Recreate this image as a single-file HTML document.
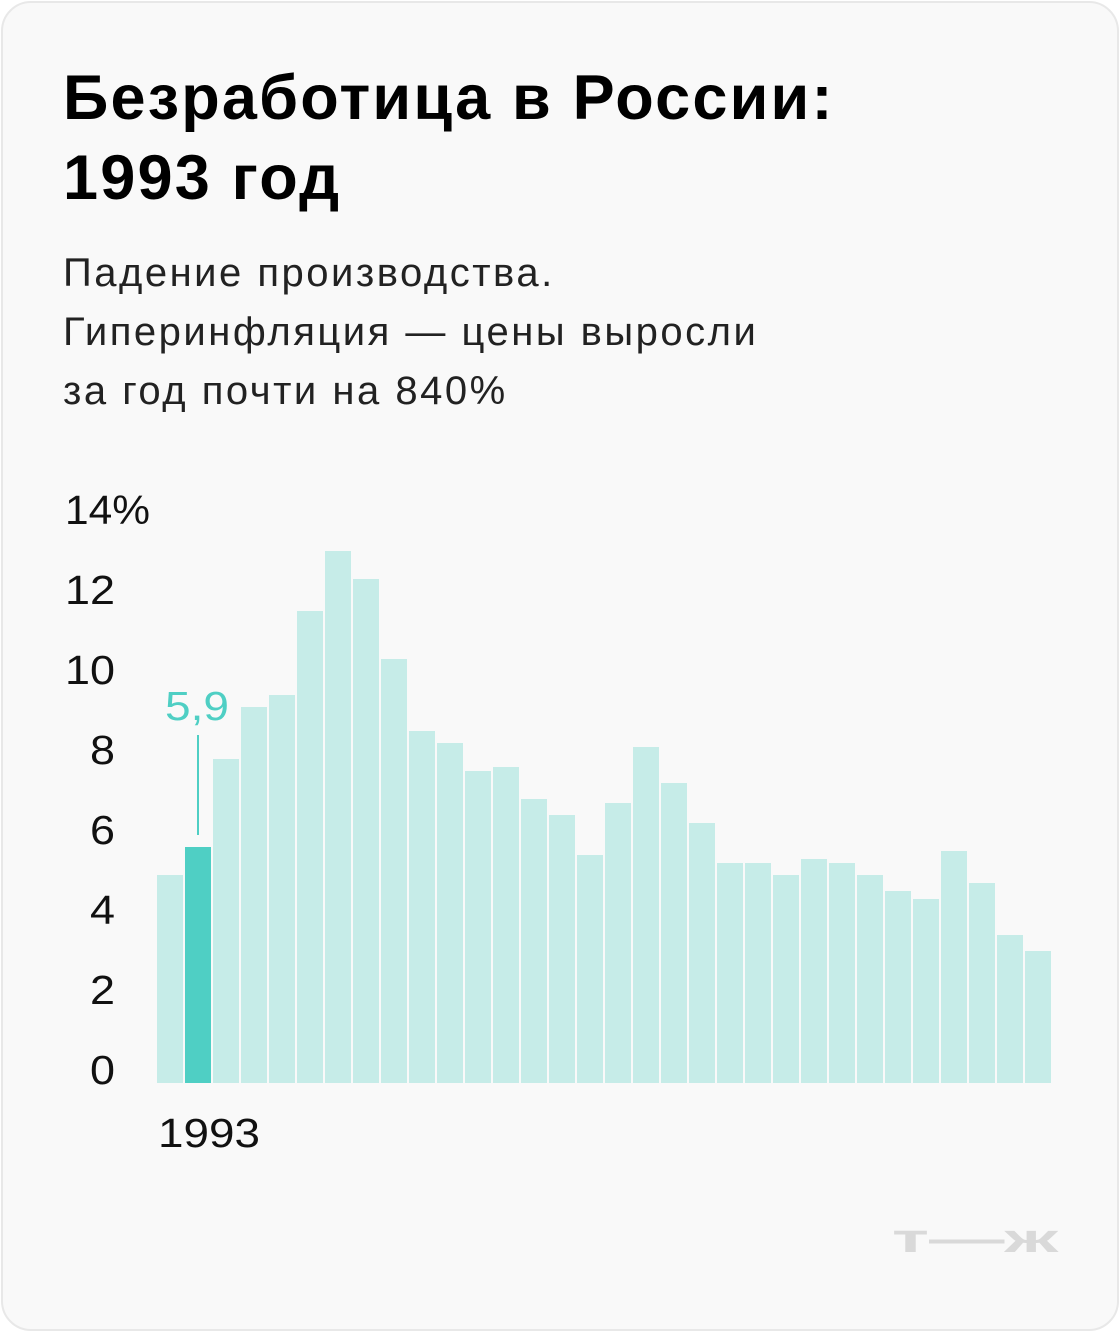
<!DOCTYPE html>
<html><head><meta charset="utf-8"><style>
body{margin:0;background:#fff;}
#card{position:absolute;left:1px;top:1px;width:1114px;height:1326px;background:#f9f9f9;border:2px solid #e8e8e8;border-radius:30px;font-family:"Liberation Sans",sans-serif;}
h1{position:absolute;left:60px;top:55px;margin:0;font-size:63px;line-height:80px;font-weight:700;color:#000;letter-spacing:2.2px;}
.sub{position:absolute;left:60px;top:241px;font-size:40px;line-height:59px;color:#222;letter-spacing:2.5px;}
svg{position:absolute;left:0;top:0;}
</style></head><body>
<div id="card">
<h1>Безработица в России:<br>1993 год</h1>
<div class="sub">Падение производства.<br>Гиперинфляция — цены выросли<br>за год почти на 840%</div>
</div>
<svg id="chart" width="1120" height="1332"></svg>
<script>
const years=[1992,1993,1994,1995,1996,1997,1998,1999,2000,2001,2002,2003,2004,2005,2006,2007,2008,2009,2010,2011,2012,2013,2014,2015,2016,2017,2018,2019,2020,2021,2022,2023];
const values=[5.2,5.9,8.1,9.4,9.7,11.8,13.3,12.6,10.6,8.8,8.5,7.8,7.9,7.1,6.7,5.7,7.0,8.4,7.5,6.5,5.5,5.5,5.2,5.6,5.5,5.2,4.8,4.6,5.8,5.0,3.7,3.3];
const yTicks=[0,2,4,6,8,10,12,14];
const highlightYear=1993;
const highlightLabel="5,9";
const svg=document.getElementById('chart');
const NS='http://www.w3.org/2000/svg';
const x0=157,pitch=28,base=1083,unit=40;
const x=i=>x0+i*pitch;
const y=v=>base-v*unit;
function mk(t,a){const e=document.createElementNS(NS,t);for(const k in a)e.setAttribute(k,a[k]);svg.appendChild(e);return e;}
yTicks.forEach(t=>{
  const s=t===14?'14%':String(t);
  const w=t===14?85:(s.length===2?50:25);
  const e=mk('text',{x:t===14?65:115-w,y:y(t)+1,'font-size':41,'font-family':'Liberation Sans, sans-serif',fill:'#111',textLength:w,lengthAdjust:'spacingAndGlyphs'});
  e.textContent=s;
  
  
});
values.forEach((v,i)=>{
  const hi=years[i]===highlightYear;
  const r=mk('rect',{x:x(i),y:y(v),width:pitch-2,height:base-y(v),fill:hi?'#4fcfc4':'#c6ece8'});
  
  
  if(hi){
    const cx=x(i)+(pitch-2)/2;
    const l=mk('line',{x1:cx,x2:cx,y1:735,y2:y(v)-12,stroke:'#4fcfc4','stroke-width':2});
    
    
    const t=mk('text',{x:165,y:720,'font-size':41,'font-family':'Liberation Sans, sans-serif',fill:'#4fcfc4',textLength:64,lengthAdjust:'spacingAndGlyphs'});
    t.textContent=highlightLabel;
    
    
    const xl=mk('text',{x:158,y:1147,'font-size':41,'font-family':'Liberation Sans, sans-serif',fill:'#111',textLength:102,lengthAdjust:'spacingAndGlyphs'});
    xl.textContent=String(years[i]);
    
    
  }
});
const logo=mk('text',{x:892,y:1252,'font-size':40,'font-weight':700,'font-family':'Liberation Sans, sans-serif',fill:'#d9d9d9',textLength:166,lengthAdjust:'spacingAndGlyphs'});
logo.textContent='т—ж';


</script>
</body></html>
